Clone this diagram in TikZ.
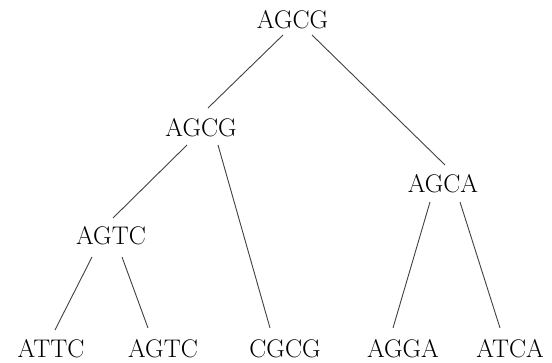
\documentclass[tikz,border=0pt]{standalone}
\usetikzlibrary{calc}
\begin{document}
\begin{tikzpicture}[x=1pt,y=-1pt,
  lbl/.style={font=\fontsize{25.5}{30}\selectfont, inner sep=0pt, text height=17.5pt, text depth=0pt},
  edge/.style={draw=black!75, line width=0.9pt}]
\useasboundingbox (0,0) rectangle (552,363);
\node[lbl] (r) at (292.5,20) {AGCG};
\node[lbl] (m) at (201,127.5) {AGCG};
\node[lbl] (a) at (443,184) {AGCA};
\node[lbl] (t) at (111,235.5) {AGTC};
\node[lbl] (l1) at (51,348.5) {ATTC};
\node[lbl] (l2) at (163,348.5) {AGTC};
\node[lbl] (l3) at (285,348.5) {CGCG};
\node[lbl] (l4) at (403,348.5) {AGGA};
\node[lbl] (l5) at (510,348.5) {ATCA};
\draw[edge] ($(r)+(-9.5,15)$) -- ($(m)+(7,-19.5)$);
\draw[edge] ($(r)+(19.5,15)$) -- ($(a)+(2,-19)$);
\draw[edge] ($(m)+(-14,17.5)$) -- ($(t)+(2,-17.5)$);
\draw[edge] ($(m)+(17,17.5)$) -- ($(l3)+(-15,-20.5)$);
\draw[edge] ($(t)+(-19,21.5)$) -- ($(l1)+(4,-18.5)$);
\draw[edge] ($(t)+(11,21.5)$) -- ($(l2)+(-15,-20.5)$);
\draw[edge] ($(a)+(-13,18)$) -- ($(l4)+(-10,-20.5)$);
\draw[edge] ($(a)+(17,18)$) -- ($(l5)+(-10,-20.5)$);
\end{tikzpicture}
\end{document}
